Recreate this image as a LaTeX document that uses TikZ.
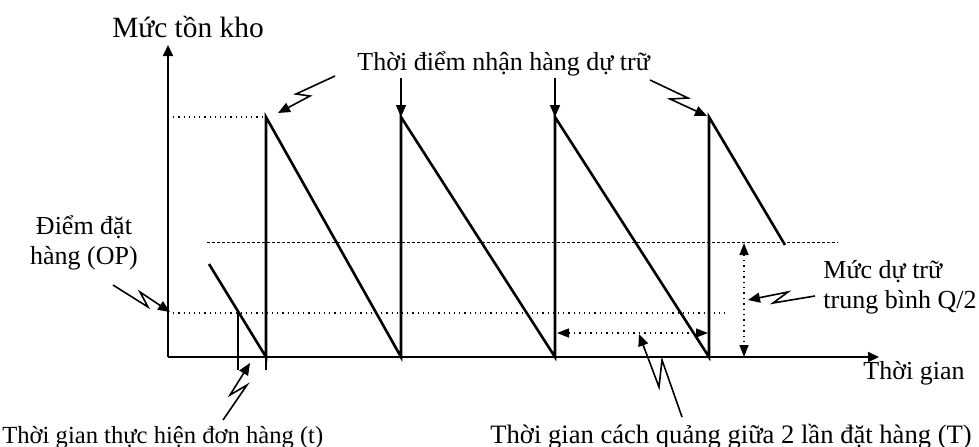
\documentclass[tikz,border=0pt]{standalone}
\usepackage{fontspec}
\setmainfont{Liberation Serif}
\usetikzlibrary{arrows.meta}

\begin{document}
\begin{tikzpicture}[x=0.5pt, y=-0.5pt,
  lbl/.style={font=\fontsize{13}{15}\selectfont, inner sep=0pt},
  axis/.style={line width=1pt, -{Triangle[length=5.5pt,width=5pt]}},
  saw/.style={line width=1.3pt, line join=miter},
  tickline/.style={line width=0.8pt},
  level/.style={line width=0.6pt, dotted},
  mean/.style={line width=0.5pt, dash pattern=on 1.5pt off 1pt},
  span/.style={line width=0.7pt, dotted, {Triangle[length=6pt,width=4.5pt]}-{Triangle[length=6pt,width=4.5pt]}},
  zap/.style={line width=0.8pt, -{Triangle[length=6pt,width=5pt]}}
]
  \useasboundingbox (0,0) rectangle (979,446);

  % Axes
  \coordinate (O) at (168,357);
  \coordinate (ytop) at (168,45);
  \coordinate (xend) at (879,357);
  \draw[axis] (O) -- (ytop);
  \draw[axis] (O) -- (xend);

  % Peaks and troughs
  \coordinate (p1) at (266,117);
  \coordinate (p2) at (401,117);
  \coordinate (p3) at (555,117);
  \coordinate (p4) at (709,117);
  \coordinate (b1) at (266,357);
  \coordinate (b2) at (401,357);
  \coordinate (b3) at (555,357);
  \coordinate (b4) at (709,357);

  % Levels
  \draw[level] (168,117) -- (p1);
  \draw[level] (168,313) -- (725,313);
  \draw[mean] (207,242) -- (838,242);

  % Sawtooth
  \draw[saw] (209,264) -- (b1) -- (p1) -- (b2) -- (p2) -- (b3) -- (p3) -- (b4) -- (p4) -- (785,245);

  % Lead time ticks
  \draw[tickline] (238,313) -- (238,370);
  \draw[tickline] (b1) -- (266,370);

  % Spans
  \coordinate (tl) at (557,333);
  \coordinate (tr) at (708,333);
  \coordinate (qtop) at (744,243);
  \coordinate (qbot) at (744,357);
  \draw[span] (tl) -- (tr);
  \draw[span] (qtop) -- (qbot);

  % Labels
  \node[lbl, anchor=base, font=\fontsize{14.7}{17}\selectfont] (ylabel) at (188,37) {Mức tồn kho};
  \node[lbl, anchor=base west] (xlabel) at (863,379) {Thời gian};
  \node[lbl, anchor=base west, inner sep=1pt] (recv) at (355,70) {Thời điểm nhận hàng dự trữ};
  \node[lbl, align=center] (op) at (84,243) {Điểm đặt\\hàng (OP)};
  \node[lbl, align=left, anchor=west] (q2) at (823,287) {Mức dự trữ\\trung bình Q/2};
  \node[lbl, anchor=base west, font=\fontsize{12.3}{15}\selectfont] (lead) at (2,443) {Thời gian thực hiện đơn hàng (t)};
  \node[lbl, anchor=base west, font=\fontsize{13.3}{15}\selectfont] (cycle) at (490,443) {Thời gian cách quảng giữa 2 lần đặt hàng (T)};

  % Pointers
  \draw[zap] (recv.south -| p2) -- (p2);
  \draw[zap] (recv.south -| p3) -- (p3);
  \draw[zap] (335,76) -- (296,94) -- (310,96) -- (278,113);
  \draw[zap] (650,80) -- (688,98) -- (670,99) -- (707,116);
  \draw[zap] (113,285) -- (148,307) -- (140,292) -- (170,312);
  \draw[zap] (223,420) -- (247,385) -- (230,395) -- (250,363);
  \draw[zap] (682,417) -- (662,360) -- (659,387) -- (639,334);
  \draw[zap] (815,296) -- (773,303) -- (788,292) -- (748,300);
\end{tikzpicture}
\end{document}
